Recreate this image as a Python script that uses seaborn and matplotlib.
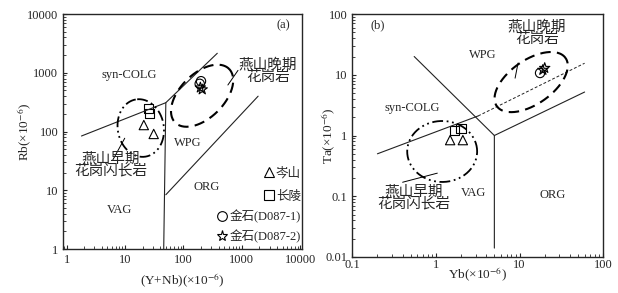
import numpy as np
import pandas as pd
import seaborn as sns
import matplotlib.pyplot as plt
from matplotlib.lines import Line2D
from matplotlib.legend import Legend

sns.set_style("ticks")
plt.rcParams["font.family"] = ["Liberation Serif", "Noto Sans CJK SC"]
plt.rcParams["mathtext.fontset"] = "stix"

# sample groups
groups = ["岑山", "长陵", "金石(D087-1)", "金石(D087-2)"]
markers = ["^", "s", "o", "*"]

# (a) Rb vs Y+Nb
a_group = ["岑山", "岑山", "长陵", "长陵", "金石(D087-1)", "金石(D087-1)", "金石(D087-2)", "金石(D087-2)"]
a_ynb = [21, 31, 25.5, 26.5, 200, 190, 195, 210]
a_rb = [129, 91, 250, 205, 720, 650, 560, 520]

# (b) Ta vs Yb
b_group = ["岑山", "岑山", "长陵", "长陵", "金石(D087-1)", "金石(D087-2)", "金石(D087-2)"]
b_yb = [1.48, 2.1, 1.66, 2.0, 17.6, 20, 19]
b_ta = [0.84, 0.84, 1.2, 1.3, 10.7, 12.9, 12.0]

df_a = pd.DataFrame({"g": a_group, "x": a_ynb, "y": a_rb})
df_b = pd.DataFrame({"g": b_group, "x": b_yb, "y": b_ta})

# discrimination boundaries (Pearce et al., 1984)
a_lines = [
    ([1.8, 50, 380], [84, 310, 2150]),
    ([46, 50], [1, 310]),
    ([50, 1900], [8.4, 400]),
]
b_lines = [
    ([0.2, 3.2], [0.5, 2.1]),
    ([0.55, 5, 5], [20, 1, 0.014]),
    ([5, 60], [1, 5.2]),
]
b_dashed = ([3.2, 60], [2.1, 15.5])

fig = plt.figure(figsize=(6.18, 2.93), dpi=100)
ax1 = fig.add_axes([0.102, 0.150, 0.387, 0.802])
ax2 = fig.add_axes([0.570, 0.123, 0.406, 0.829])


def log_ellipse(ax, cx, cy, a, b, ang, sx, sy, ls, lw):
    # ellipse drawn in pixel-like space on log axes
    t = np.linspace(0, 2 * np.pi, 200)
    th = np.radians(ang)
    u = a * np.cos(t) * np.cos(th) - b * np.sin(t) * np.sin(th)
    v = a * np.cos(t) * np.sin(th) + b * np.sin(t) * np.cos(th)
    ax.plot(10 ** (cx + u / sx), 10 ** (cy + v / sy), color="k", ls=ls, lw=lw)


dashdotdot = (0, (6, 2, 1, 2, 1, 2))
dashed = (0, (5, 3))

for ax, df in [(ax1, df_a), (ax2, df_b)]:
    for g, m in zip(groups, markers):
        sub = df[df["g"] == g]
        size = 60 if m == "*" else 45
        sns.scatterplot(data=sub, x="x", y="y", marker=m, s=size, ax=ax,
                        facecolor="none", edgecolor="k", linewidth=0.8, legend=False)

for xs, ys in a_lines:
    ax1.plot(xs, ys, color="#222222", lw=0.8)
for xs, ys in b_lines:
    ax2.plot(xs, ys, color="#222222", lw=0.8)
ax2.plot(*b_dashed, color="#222222", lw=0.7, ls=(0, (3, 2)))

log_ellipse(ax1, 1.27, 2.06, 29, 23, 100, 58.3, 58.75, dashdotdot, 1.3)
log_ellipse(ax1, 2.32, 2.61, 38, 22, 45, 58.3, 58.75, dashed, 1.5)
log_ellipse(ax2, 0.075, -0.263, 35, 30.5, 0, 83.7, 60.75, dashdotdot, 1.3)
log_ellipse(ax2, 1.139, 0.88, 42, 22, 35, 83.7, 60.75, dashed, 1.5)

for ax in (ax1, ax2):
    ax.set_xscale("log")
    ax.set_yscale("log")
    ax.tick_params(which="both", direction="in", labelsize=9, top=False, right=False)
    ax.tick_params(which="major", length=3, width=0.8)
    ax.tick_params(which="minor", length=2, width=0.6)
    for s in ax.spines.values():
        s.set_visible(True)
        s.set_linewidth(1.0)
ax2.tick_params(axis="x", which="major", pad=1.5)

ax1.set_xlim(0.87, 10800)
ax1.set_ylim(1, 10000)
ax1.set_xticks([1, 10, 100, 1000, 10000], ["1", "10", "100", "1000", "10000"])
ax1.set_yticks([1, 10, 100, 1000, 10000], ["1", "10", "100", "1000", "10000"])
ax2.set_xlim(0.1, 100)
ax2.set_ylim(0.01, 100)
ax2.set_xticks([0.1, 1, 10, 100], ["0.1", "1", "10", "100"])
ax2.set_yticks([0.01, 0.1, 1, 10, 100], ["0.01", "0.1", "1", "10", "100"])

ax1.set_xlabel("(Y+Nb)(×10$^{-6}$)", fontsize=9.5)
ax1.set_ylabel("Rb(×10$^{-6}$)", fontsize=9.5)
ax2.set_xlabel("Yb(×10$^{-6}$)", fontsize=9.5)
ax2.set_ylabel("Ta(×10$^{-6}$)", fontsize=9.5)
ax1.xaxis.set_label_coords(0.5, -0.098)
ax1.yaxis.set_label_coords(-0.12, 0.5)
ax2.xaxis.set_label_coords(0.5, -0.037)
ax2.yaxis.set_label_coords(-0.056, 0.5)

fs = 9
ax1.text(11.6, 920, "syn-COLG", fontsize=fs, ha="center", va="center")
ax1.text(119, 64, "WPG", fontsize=fs, ha="center", va="center")
ax1.text(250, 11.4, "ORG", fontsize=fs, ha="center", va="center")
ax1.text(8.1, 4.6, "VAG", fontsize=fs, ha="center", va="center")
ax1.text(0.92, 0.953, "(a)", fontsize=9, ha="center", va="center", transform=ax1.transAxes)
ax1.text(2800, 1100, "燕山晚期\n花岗岩", fontsize=10.5, ha="center", va="center", linespacing=0.95)
ax1.plot([577, 860], [620, 1100], color="k", lw=0.7)
ax1.text(5.7, 27, "燕山早期\n花岗闪长岩", fontsize=10.5, ha="center", va="center", linespacing=0.95)
ax1.plot([6.2, 9.9], [33, 77], color="k", lw=0.7)

ax2.text(3.6, 21, "WPG", fontsize=fs, ha="center", va="center")
ax2.text(0.52, 2.84, "syn-COLG", fontsize=fs, ha="center", va="center")
ax2.text(2.8, 0.113, "VAG", fontsize=fs, ha="center", va="center")
ax2.text(25, 0.105, "ORG", fontsize=fs, ha="center", va="center")
ax2.text(0.10, 0.955, "(b)", fontsize=9, ha="center", va="center", transform=ax2.transAxes)
ax2.text(16.2, 49, "燕山晚期\n花岗岩", fontsize=10.5, ha="center", va="center", linespacing=0.95)
ax2.plot([8.85, 9.6], [8.8, 15.6], color="k", lw=0.7)
ax2.text(0.54, 0.093, "燕山早期\n花岗闪长岩", fontsize=10.5, ha="center", va="center", linespacing=0.95)
ax2.plot([0.40, 1.04], [0.17, 0.24], color="k", lw=0.7)

# right-aligned legend rows, one legend per entry
legend_rows = [0.323, 0.223, 0.138, 0.052]
for g, m, yy in zip(groups, markers, legend_rows):
    h = Line2D([], [], marker=m, ls="none", mfc="none", mec="k", mew=0.8,
               ms=8 if m == "*" else 7)
    leg = Legend(ax1, [h], [g], loc="center right", bbox_to_anchor=(0.995, yy),
                 frameon=False, fontsize=9, handletextpad=0.1,
                 handlelength=1.0, borderaxespad=0, borderpad=0)
    ax1.add_artist(leg)

fig.savefig("out.png", dpi=100)
